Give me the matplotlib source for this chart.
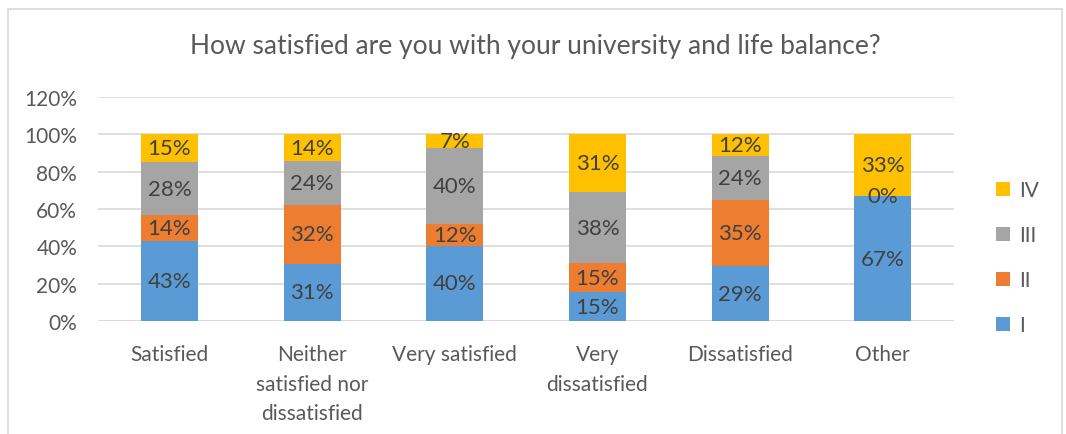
import numpy as np
import matplotlib.pyplot as plt
from matplotlib.patches import Rectangle, Patch

categories = ["Satisfied", "Neither\nsatisfied nor\ndissatisfied", "Very satisfied",
              "Very\ndissatisfied", "Dissatisfied", "Other"]
series_names = ["I", "II", "III", "IV"]
s1 = [42.6, 30.6, 40.2, 15.4, 29.4, 66.7]
s2 = [14.2, 31.6, 12.0, 15.4, 35.3, np.nan]
s3 = [28.2, 23.6, 40.4, 38.4, 23.5, 0.0]
s4 = [15.0, 14.2, 7.4, 30.8, 11.8, 33.3]
yticks = [0, 20, 40, 60, 80, 100, 120]
title = "How satisfied are you with your university and life balance?"

colors = ["#5B9BD5", "#ED7D31", "#A5A5A5", "#FFC000"]
font = "Lato"
plt.rcParams['font.family'] = [font, 'DejaVu Sans']

fig = plt.figure(figsize=(10.66, 4.35), dpi=100)
ax = fig.add_axes([0.092, 0.2598, 0.803, 0.5149])

x = np.arange(len(categories))
bottom = np.zeros(len(categories))
handles = []
for vals, c, name in zip([s1, s2, s3, s4], colors, series_names):
    v = np.array(vals, dtype=float)
    vz = np.nan_to_num(v)
    ax.bar(x, vz, 0.4, bottom=bottom, color=c, zorder=3)
    for i in range(len(x)):
        if np.isnan(v[i]):
            continue
        ax.text(x[i], bottom[i] + vz[i] / 2, f"{v[i]:.0f}%", ha='center', va='center',
                fontsize=16, color="#404040", zorder=4)
    handles.append(Patch(facecolor=c, label=name))
    bottom += vz

ax.set_xlim(-0.5, len(categories) - 0.5)
ax.set_ylim(0, 120)
ax.set_yticks(yticks)
ax.set_yticklabels([f"{t}%" for t in yticks], fontsize=15, color="#595959")
ax.set_xticks(x)
ax.set_xticklabels(categories, fontsize=15, color="#595959", linespacing=1.6, va='top')
ax.tick_params(axis='both', length=0)
ax.tick_params(axis='y', pad=15)
ax.tick_params(axis='x', pad=16.5)
ax.grid(axis='y', color="#D9D9D9", linewidth=1.2, zorder=0)
for s in ax.spines.values():
    s.set_visible(False)
ax.axhline(0, color="#D9D9D9", linewidth=1.2, zorder=2)

fig.text(0.502, 0.892, title, ha='center', va='center', fontsize=19, color="#595959")

leg = fig.legend(handles=handles[::-1], loc='center left', bbox_to_anchor=(0.934, 0.405),
                 frameon=False, fontsize=15, labelcolor="#595959", handlelength=0.7,
                 handleheight=0.7, handletextpad=0.45, labelspacing=1.2, borderpad=0,
                 borderaxespad=0)

fig.patches.append(Rectangle((8 / 1066, -0.05), (1062 - 8) / 1066, 1 - 10 / 435 + 0.05,
                             transform=fig.transFigure, fill=False, edgecolor="#D9D9D9",
                             linewidth=1.2))

fig.savefig("out.png", dpi=100, facecolor="white")
